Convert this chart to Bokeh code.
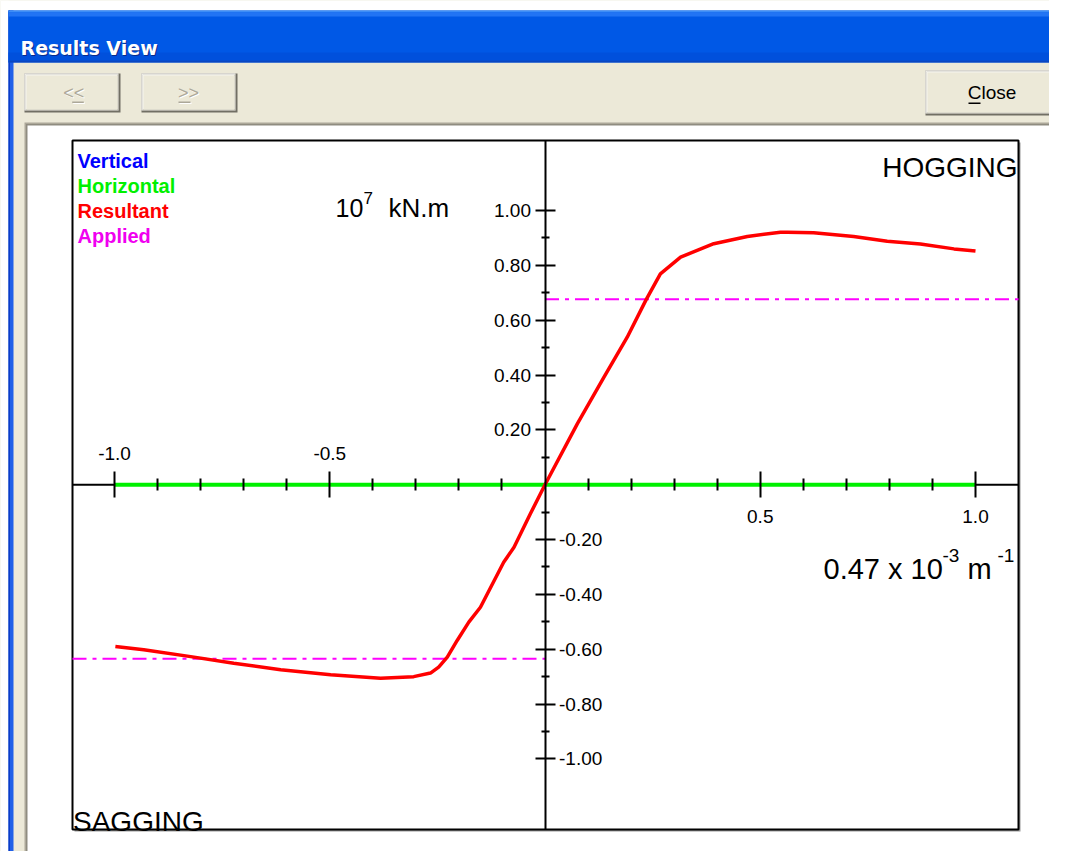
import math
from bokeh.plotting import figure
from bokeh.models import (Range1d, LinearAxis, FixedTicker, NumeralTickFormatter, Label)
from bokeh.embed import file_html
from bokeh.resources import INLINE

# ---------------- data ----------------
resultant_x = [-0.998, -0.932, -0.823, -0.723, -0.614, -0.498, -0.382, -0.305, -0.266,
               -0.247, -0.227, -0.204, -0.177, -0.150, -0.096, -0.072, -0.034, 0.0,
               0.075, 0.137, 0.191, 0.235, 0.268, 0.315, 0.392, 0.470, 0.547, 0.563,
               0.624, 0.717, 0.795, 0.872, 0.950, 1.0]
resultant_y = [-0.590, -0.602, -0.627, -0.651, -0.675, -0.693, -0.706, -0.700, -0.687,
               -0.665, -0.629, -0.568, -0.501, -0.447, -0.283, -0.228, -0.106, 0.0,
               0.222, 0.392, 0.538, 0.675, 0.769, 0.830, 0.879, 0.905, 0.921, 0.921,
               0.919, 0.905, 0.888, 0.878, 0.860, 0.852]
horizontal_x = [-1.0, 1.0]
horizontal_y = [0.0, 0.0]
applied_level = [0.676, -0.635]      # hogging / sagging applied moment

x_major_neg = [-1.0, -0.5]
x_minor_neg = [-0.9, -0.8, -0.7, -0.6, -0.4, -0.3, -0.2, -0.1]
x_major_pos = [0.5, 1.0]
x_minor_pos = [0.1, 0.2, 0.3, 0.4, 0.6, 0.7, 0.8, 0.9]
y_major_pos = [0.2, 0.4, 0.6, 0.8, 1.0]
y_minor_pos = [0.1, 0.3, 0.5, 0.7, 0.9]
y_major_neg = [-0.2, -0.4, -0.6, -0.8, -1.0]
y_minor_neg = [-0.1, -0.3, -0.5, -0.7, -0.9]

legend_names = ["Vertical", "Horizontal", "Resultant", "Applied"]
legend_colors = ["#0000FF", "#00F000", "#FF0000", "#F000F0"]

# ---------------- layout constants (pixels) ----------------
W, H = 1049, 851
BOX_L, BOX_T, BOX_R, BOX_B = 72, 140, 1018, 829     # plotting box of the chart
X0_PX, X_SCALE = 544.5, 430.5                      # pixel of x = 0, pixels per unit
Y0_PX, Y_SCALE = 484.2, 274.2                      # pixel of y = 0, pixels per unit
BEIGE = "#ECE9D8"
FONT = "Liberation Sans"

def xd(px):
    return (px - X0_PX) / X_SCALE

def yd(py):
    return (Y0_PX - py) / Y_SCALE

X_LO, X_HI = xd(BOX_L), xd(BOX_R)
Y_LO, Y_HI = yd(BOX_B), yd(BOX_T)

p = figure(width=W, height=H,
           x_range=Range1d(xd(0), xd(W)), y_range=Range1d(yd(H), yd(0)),
           x_axis_type=None, y_axis_type=None, min_border=0,
           output_backend="svg", toolbar_location=None,
           background_fill_color=BEIGE, border_fill_color=BEIGE,
           outline_line_color=None)
p.extra_x_ranges = {"px": Range1d(0, W)}
p.extra_y_ranges = {"px": Range1d(H, 0)}

def rect(x0, y0, x1, y1, color, line=None, lw=1):
    p.quad(left=[x0], right=[x1], top=[y0], bottom=[y1],
           x_range_name="px", y_range_name="px",
           fill_color=color, line_color=line, line_width=lw)

def button(x0, y0, x1, y1):
    rect(x0, y0, x1, y1, "#716F64")
    rect(x0, y0, x1 - 2, y1 - 2, "#FFFFFF")
    rect(x0 + 1, y0 + 1, x1 - 2, y1 - 2, "#ACA899")
    rect(x0 + 1, y0 + 1, x1 - 3, y1 - 3, "#F6F5F0")
    rect(x0 + 2, y0 + 2, x1 - 3, y1 - 3, BEIGE)

# ---------------- window chrome ----------------
rect(0, 0, W, 10, "#FFFFFF")
rect(0, 0, 8, H, "#FFFFFF")
rect(8, 10, 13, H, "#2060E8")
rect(8, 10, 9.5, H, "#0A3CC8")
rect(8, 10, W, 62, "#0058E6")
rect(8, 10, W, 12, "#3D8DF7")
rect(8, 12, W, 16, "#2274F4")
rect(8, 52, W, 60, "#0050DC")
rect(8, 60, W, 62, "#0A46C0")

button(24, 73, 120, 112)
button(141, 73, 237, 112)
button(925, 70, 1058, 115)
rect(72.7, 102, 84.3, 103.5, "#FFFFFF")
rect(71.7, 101, 83.3, 102.5, "#ACA899")
rect(179, 102, 191, 103.5, "#FFFFFF")
rect(178, 101, 190, 102.5, "#ACA899")
rect(968, 102, 980, 103.5, "#000000")

# sunken white panel
rect(24, 122, W, H, "#ACA899")
rect(25.5, 123.5, W, H, "#8F8C80")
rect(27, 125, W, H, "#FFFFFF")

# chart box with its shadow
rect(BOX_L + 2, BOX_T + 2, BOX_R + 2, BOX_B + 2, "#9A9A9A")
rect(BOX_L, BOX_T, BOX_R, BOX_B, "#FFFFFF", line="#000000", lw=2)

# ---------------- chart ----------------
p.segment(x0=[X_LO], y0=[0.0], x1=[X_HI], y1=[0.0], line_color="black", line_width=2)
p.line(horizontal_x, horizontal_y, line_color="#00F000", line_width=4)
p.segment(x0=[0.0, X_LO], y0=applied_level, x1=[X_HI, 0.0], y1=applied_level,
          line_color="#FF00FF", line_width=2, line_dash="14 6 4 6")
p.line(resultant_x, resultant_y, line_color="#FF0000", line_width=3.5)

def axis(side, major, minor, fmt, tin, tout, mtin, mtout, standoff, bounds=None):
    ax = LinearAxis(ticker=FixedTicker(ticks=major, minor_ticks=minor),
                    formatter=NumeralTickFormatter(format=fmt),
                    fixed_location=0,
                    axis_line_color="black" if bounds else None, axis_line_width=2,
                    major_tick_in=tin, major_tick_out=tout,
                    minor_tick_in=mtin, minor_tick_out=mtout,
                    major_tick_line_width=2, minor_tick_line_width=2,
                    major_tick_line_color="black", minor_tick_line_color="black",
                    major_label_text_font=FONT, major_label_text_font_size="19px",
                    major_label_text_color="black", major_label_standoff=standoff)
    if bounds:
        ax.bounds = bounds
    p.add_layout(ax, side)

axis("above", x_major_neg, x_minor_neg, "0.0", 13, 13, 6, 6, 12)
axis("below", x_major_pos, x_minor_pos, "0.0", 13, 13, 6, 6, 12)
axis("left", y_major_pos, y_minor_pos, "0.00", 10, 10, 4, 4, 4, bounds=(Y_LO, Y_HI))
axis("right", y_major_neg, y_minor_neg, "0.00", 10, 10, 4, 4, 4)

# ---------------- texts ----------------
def txt(x, y, s, size, color="black", style="normal", font=FONT, align="left",
        baseline="alphabetic"):
    p.add_layout(Label(x=x, y=y, x_units="canvas", y_units="canvas", text=s,
                       text_font=font, text_font_size=f"{size}px",
                       text_color=color, text_font_style=style,
                       text_align=align, text_baseline=baseline))

txt(21, 48, "Results View", 19, color="#0A2A8A", style="bold", font="DejaVu Sans")
txt(20, 47, "Results View", 19, color="#FFFFFF", style="bold", font="DejaVu Sans")
txt(74.3, 93.5, "<<", 18, color="#FFFFFF", align="center", baseline="middle")
txt(73.3, 92.5, "<<", 18, color="#ACA899", align="center", baseline="middle")
txt(189, 93.5, ">>", 18, color="#FFFFFF", align="center", baseline="middle")
txt(188, 92.5, ">>", 18, color="#ACA899", align="center", baseline="middle")
txt(991.5, 92, "Close", 19, align="center", baseline="middle")

for i, (name, col) in enumerate(zip(legend_names, legend_colors)):
    txt(77, 160 + 25 * i, name, 20, color=col, style="bold")

txt(335, 207, "10", 25)
txt(363, 197, "7", 17)
txt(388, 207, "kN.m", 26)

txt(823, 568, "0.47 x 10", 29)
txt(942, 555, "-3", 19)
txt(967, 568, "m", 29)
txt(997, 555, "-1", 19)

txt(1017, 167, "HOGGING", 28, align="right")
txt(72.5, 821, "SAGGING", 28)

open("out.html", "w").write(file_html(p, INLINE))
